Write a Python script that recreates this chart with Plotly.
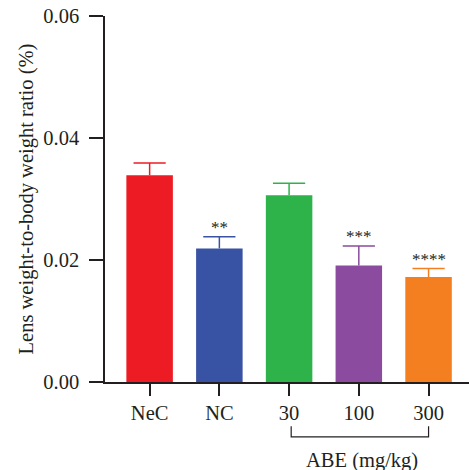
import plotly.graph_objects as go

categories = ["NeC", "NC", "30", "100", "300"]
values = [0.0339, 0.0219, 0.0306, 0.0191, 0.0172]
errors = [0.0020, 0.0019, 0.0020, 0.0032, 0.0014]
colors = ["#ED1C24", "#3953A4", "#2EB34A", "#8B4B9E", "#F47F20"]
stars = ["", "**", "", "***", "****"]
group_label = "ABE (mg/kg)"
group_span = [2, 4]

FONT = "Liberation Serif"
INK = "#231F20"
FS = 20.5

fig = go.Figure()
idx = list(range(len(categories)))
for i, v, e, col in zip(idx, values, errors, colors):
    fig.add_trace(go.Bar(
        x=[i], y=[v], marker=dict(color=col, line=dict(width=0)),
        width=0.667, showlegend=False, hoverinfo="skip",
    ))
    fig.add_trace(go.Scatter(
        x=[i], y=[v + e], mode="markers",
        marker=dict(symbol="line-ew", size=23, line=dict(color=col, width=1.5)),
        error_y=dict(type="data", array=[0], arrayminus=[e], symmetric=False,
                     color=col, thickness=1.5, width=0),
        showlegend=False, hoverinfo="skip",
    ))

for i, v, e, s in zip(idx, values, errors, stars):
    if s:
        fig.add_annotation(x=i, y=v + e, text=s, showarrow=False,
                           yanchor="bottom", yshift=-2,
                           font=dict(family=FONT, size=17, color=INK))

# bracket under the ABE groups
fig.add_shape(type="path", xref="x", yref="paper",
              path=f"M {group_span[0] + 0.03},-0.121 L {group_span[0] + 0.03},-0.150 L {group_span[1]},-0.150 L {group_span[1]},-0.121",
              line=dict(color=INK, width=1.2))
fig.add_annotation(x=(group_span[0] + group_span[1]) / 2 + 0.05, xref="x", y=-0.214, yref="paper",
                   text=group_label, showarrow=False, yanchor="middle",
                   font=dict(family=FONT, size=FS, color=INK))

fig.update_layout(
    width=469, height=470,
    margin=dict(l=104.5, r=0, t=15.7, b=88.3),
    paper_bgcolor="white", plot_bgcolor="white",
    barmode="overlay",
    font=dict(family=FONT, size=FS, color=INK),
    xaxis=dict(range=[-0.64, 4.58], tickvals=idx, ticktext=categories,
               showline=True, linecolor=INK, linewidth=1.5,
               ticks="outside", ticklen=12, tickcolor=INK, tickwidth=1.5,
               showgrid=False, zeroline=False,
               tickfont=dict(family=FONT, size=FS, color=INK)),
    yaxis=dict(range=[0, 0.06], tickvals=[0, 0.02, 0.04, 0.06],
               ticktext=["0.00", "0.02", "0.04", "0.06"],
               showline=True, linecolor=INK, linewidth=1.5,
               ticks="outside", ticklen=14, tickcolor=INK, tickwidth=1.5,
               ticklabelstandoff=6,
               showgrid=False, zeroline=False,
               tickfont=dict(family=FONT, size=FS, color=INK),
               title=dict(text="Lens weight-to-body weight ratio (%)",
                          font=dict(family=FONT, size=FS, color=INK), standoff=4)),
)

fig.write_html("out.html")
